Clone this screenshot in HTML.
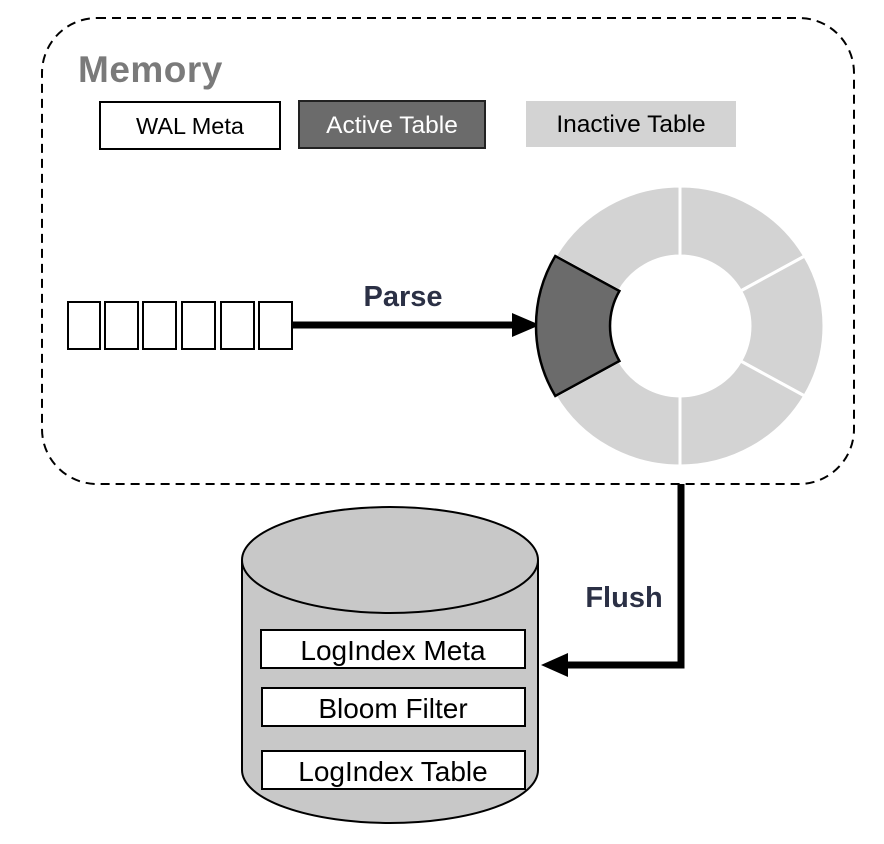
<!DOCTYPE html>
<html><head><meta charset="utf-8"><style>
html,body{margin:0;padding:0;background:#fff;}
svg{display:block;}
text{font-family:"Liberation Sans",sans-serif;}
</style></head><body>
<svg width="884" height="844" viewBox="0 0 884 844" xmlns="http://www.w3.org/2000/svg">
<rect x="42" y="18" width="812" height="466" rx="55" ry="55" fill="none" stroke="#000" stroke-width="2" stroke-dasharray="9,6"/>
<text x="78" y="82" font-size="37" font-weight="bold" fill="#7a7a7a" letter-spacing="0.5">Memory</text>
<rect x="100" y="102" width="180" height="47" fill="#fff" stroke="#000" stroke-width="2"/>
<text x="190" y="134" font-size="23.5" text-anchor="middle" fill="#000">WAL Meta</text>
<rect x="299" y="101" width="186" height="47" fill="#6b6b6b" stroke="#222" stroke-width="2"/>
<text x="392" y="133" font-size="24.5" text-anchor="middle" fill="#fff">Active Table</text>
<rect x="526" y="101" width="210" height="46" fill="#d3d3d3"/>
<text x="631" y="132" font-size="24.5" text-anchor="middle" fill="#000">Inactive Table</text>
<g fill="#fff" stroke="#000" stroke-width="2">
<rect x="68" y="302" width="32" height="47"/><rect x="105" y="302" width="33" height="47"/>
<rect x="143" y="302" width="33" height="47"/><rect x="182" y="302" width="33" height="47"/>
<rect x="221" y="302" width="33" height="47"/><rect x="259" y="302" width="33" height="47"/>
</g>
<line x1="293" y1="325" x2="515" y2="325" stroke="#000" stroke-width="7"/>
<polygon points="512,313 540,325 512,337" fill="#000"/>
<text x="403" y="306" font-size="29" font-weight="bold" text-anchor="middle" fill="#2b3045">Parse</text>
<g fill="#d3d3d3" stroke="#fff" stroke-width="3">
<path d="M680,186 A144,140 0 0 1 804.7,256 L740.6,291 A70,70 0 0 0 680,256 Z"/>
<path d="M804.7,256 A144,140 0 0 1 804.7,396 L740.6,361 A70,70 0 0 0 740.6,291 Z"/>
<path d="M804.7,396 A144,140 0 0 1 680,466 L680,396 A70,70 0 0 0 740.6,361 Z"/>
<path d="M680,466 A144,140 0 0 1 555.3,396 L619.4,361 A70,70 0 0 0 680,396 Z"/>
<path d="M555.3,256 A144,140 0 0 1 680,186 L680,256 A70,70 0 0 0 619.4,291 Z"/>
</g>
<path d="M555.3,256 A144,140 0 0 0 555.3,396 L619.4,361 A70,70 0 0 1 619.4,291 Z" fill="#6b6b6b" stroke="#000" stroke-width="2.5"/>
<polyline points="681,484 681,665 565,665" fill="none" stroke="#000" stroke-width="7"/>
<polygon points="568,653 541,665 568,677" fill="#000"/>
<text x="624" y="607" font-size="29" font-weight="bold" text-anchor="middle" fill="#2b3045">Flush</text>
<path d="M242,560 L242,770 A148,53 0 0 0 538,770 L538,560" fill="#c8c8c8" stroke="#000" stroke-width="2"/>
<ellipse cx="390" cy="560" rx="148" ry="53" fill="#c8c8c8" stroke="#000" stroke-width="2"/>
<g fill="#fff" stroke="#000" stroke-width="2">
<rect x="261" y="630" width="264" height="38"/>
<rect x="262" y="688" width="263" height="38"/>
<rect x="262" y="751" width="263" height="38"/>
</g>
<g font-size="28" text-anchor="middle" fill="#000">
<text x="393" y="660">LogIndex Meta</text>
<text x="393" y="718">Bloom Filter</text>
<text x="393" y="781">LogIndex Table</text>
</g>
</svg>
</body></html>
